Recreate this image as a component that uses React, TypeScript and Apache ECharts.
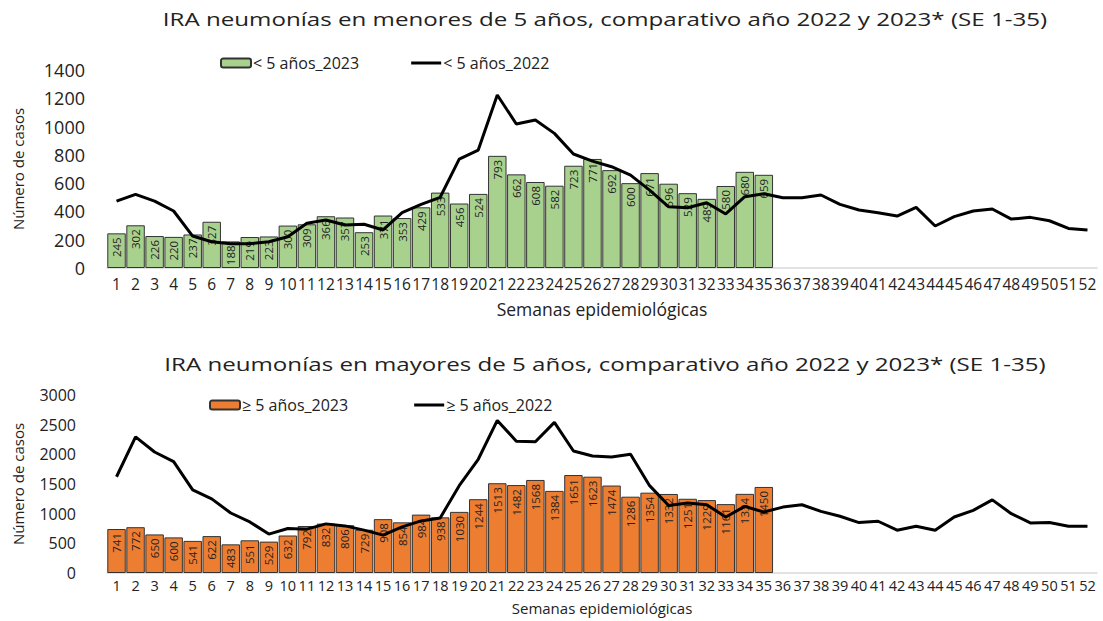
import React, { useEffect, useRef } from "react";
import * as echarts from "echarts";

const weeks = Array.from({ length: 52 }, (_, i) => String(i + 1));

const under5_2023 = [245, 302, 226, 220, 237, 327, 188, 219, 223, 300, 309, 366, 357, 253, 371, 353, 429, 533, 456, 524, 793, 662, 608, 582, 723, 771, 692, 600, 671, 596, 529, 489, 580, 680, 659];
const under5_2022 = [473, 521, 473, 403, 226, 186, 172, 172, 186, 221, 316, 339, 304, 309, 269, 391, 450, 500, 770, 834, 1223, 1018, 1046, 952, 806, 756, 716, 657, 551, 433, 426, 461, 382, 504, 525, 497, 497, 516, 450, 410, 391, 367, 429, 297, 363, 403, 417, 346, 358, 334, 280, 269];

const over5_2023 = [741, 772, 650, 600, 541, 622, 483, 551, 529, 632, 792, 832, 806, 729, 908, 854, 984, 938, 1030, 1244, 1513, 1482, 1568, 1384, 1651, 1623, 1474, 1286, 1354, 1332, 1251, 1229, 1161, 1334, 1450];
const over5_2022 = [1622, 2294, 2039, 1878, 1400, 1250, 1011, 861, 656, 750, 739, 828, 794, 722, 639, 778, 878, 928, 1472, 1917, 2572, 2222, 2211, 2539, 2056, 1972, 1956, 2000, 1472, 1139, 1178, 1150, 944, 1122, 1028, 1111, 1150, 1039, 956, 850, 872, 722, 789, 722, 944, 1056, 1233, 1000, 844, 850, 789, 789];

const title1 = "IRA neumonías en menores de 5 años, comparativo año 2022 y 2023* (SE 1-35)";
const title2 = "IRA neumonías en mayores de 5 años, comparativo año 2022 y 2023* (SE 1-35)";
const xName = "Semanas epidemiológicas";
const yName = "Número de casos";
const legendTop = ["< 5 años_2023", "< 5 años_2022"];
const legendBottom = ["≥ 5 años_2023", "≥ 5 años_2022"];

const FONT = "Open Sans";
const TXT = "#222";
const LINE_ICON = "path://M0,0 H30 V3 H0 Z";

export default function App() {
  const ref = useRef<HTMLDivElement>(null);
  useEffect(() => {
    if (!ref.current) return;
    const chart = echarts.init(ref.current, undefined, { renderer: "svg" });
    const barLabel = {
      show: true,
      position: "insideTop",
      rotate: 90,
      align: "right",
      verticalAlign: "middle",
      distance: 4,
      fontSize: 11.5,
      color: TXT,
      fontFamily: FONT,
    };
    const xAxisBase = (gridIndex: number, labelSize: number, labelMargin: number, gap: number, nameSize: number) => ({
      type: "category",
      gridIndex,
      data: weeks,
      axisTick: { show: false },
      axisLine: { lineStyle: { color: "#d9d9d9", width: 1.5 } },
      axisLabel: { interval: 0, fontSize: labelSize, color: TXT, fontFamily: FONT, margin: labelMargin },
      name: xName,
      nameLocation: "middle",
      nameGap: gap,
      nameTextStyle: { fontSize: nameSize, color: TXT, fontFamily: FONT },
    });
    const yAxisBase = (gridIndex: number, max: number, interval: number, fs: number, margin: number) => ({
      type: "value",
      gridIndex,
      min: 0,
      max,
      interval,
      splitLine: { show: false },
      axisLine: { show: false },
      axisTick: { show: false },
      axisLabel: { fontSize: fs, color: TXT, fontFamily: FONT, margin, formatter: (v: number) => String(v) },
      name: yName,
      nameLocation: "middle",
      nameGap: 82,
      nameTextStyle: { fontSize: 15, color: TXT, fontFamily: FONT },
    });
    const legendBase = (names: string[], left: number, top: number, gap: number) => ({
      data: [
        { name: names[0] },
        { name: names[1], icon: LINE_ICON },
      ],
      left,
      top,
      itemGap: gap,
      itemWidth: 30,
      itemHeight: 9,
      textStyle: { fontSize: 16, color: TXT, fontFamily: FONT, padding: [0, 0, 0, -3] },
    });
    chart.setOption({
      animation: false,
      graphic: [
        { type: "text", x: 605, y: 19, scaleX: 1.27, style: { text: title1, fontSize: 19, fontFamily: FONT, fill: TXT, align: "center", verticalAlign: "middle" } },
        { type: "text", x: 605, y: 364, scaleX: 1.27, style: { text: title2, fontSize: 19, fontFamily: FONT, fill: TXT, align: "center", verticalAlign: "middle" } },
      ],
      legend: [
        legendBase(legendTop, 215, 50, 52),
        legendBase(legendBottom, 204, 392, 66),
      ],
      grid: [
        { left: 107, top: 70, width: 990, height: 198 },
        { left: 107, top: 395, width: 990, height: 178 },
      ],
      xAxis: [xAxisBase(0, 15.5, 8, 32, 17.5), xAxisBase(1, 14.5, 5, 27, 15)],
      yAxis: [yAxisBase(0, 1400, 200, 18, 22), yAxisBase(1, 3000, 500, 16, 31)],
      series: [
        {
          name: legendTop[0],
          type: "bar",
          xAxisIndex: 0,
          yAxisIndex: 0,
          data: under5_2023,
          barCategoryGap: "3%",
          itemStyle: { color: "#A9D18E", borderColor: "#333", borderWidth: 1 },
          label: barLabel,
        },
        {
          name: legendTop[1],
          type: "line",
          xAxisIndex: 0,
          yAxisIndex: 0,
          data: under5_2022,
          symbol: "none",
          lineStyle: { color: "#000", width: 3 },
          itemStyle: { color: "#000" },
        },
        {
          name: legendBottom[0],
          type: "bar",
          xAxisIndex: 1,
          yAxisIndex: 1,
          data: over5_2023,
          barCategoryGap: "3%",
          itemStyle: { color: "#ED7D31", borderColor: "#333", borderWidth: 1 },
          label: barLabel,
        },
        {
          name: legendBottom[1],
          type: "line",
          xAxisIndex: 1,
          yAxisIndex: 1,
          data: over5_2022,
          symbol: "none",
          lineStyle: { color: "#000", width: 3 },
          itemStyle: { color: "#000" },
        },
      ],
    });
    return () => chart.dispose();
  }, []);
  return (
    <div
      ref={ref}
      style={{ position: "fixed", left: 0, top: 0, width: 1103, height: 621, background: "#fff" }}
    />
  );
}
